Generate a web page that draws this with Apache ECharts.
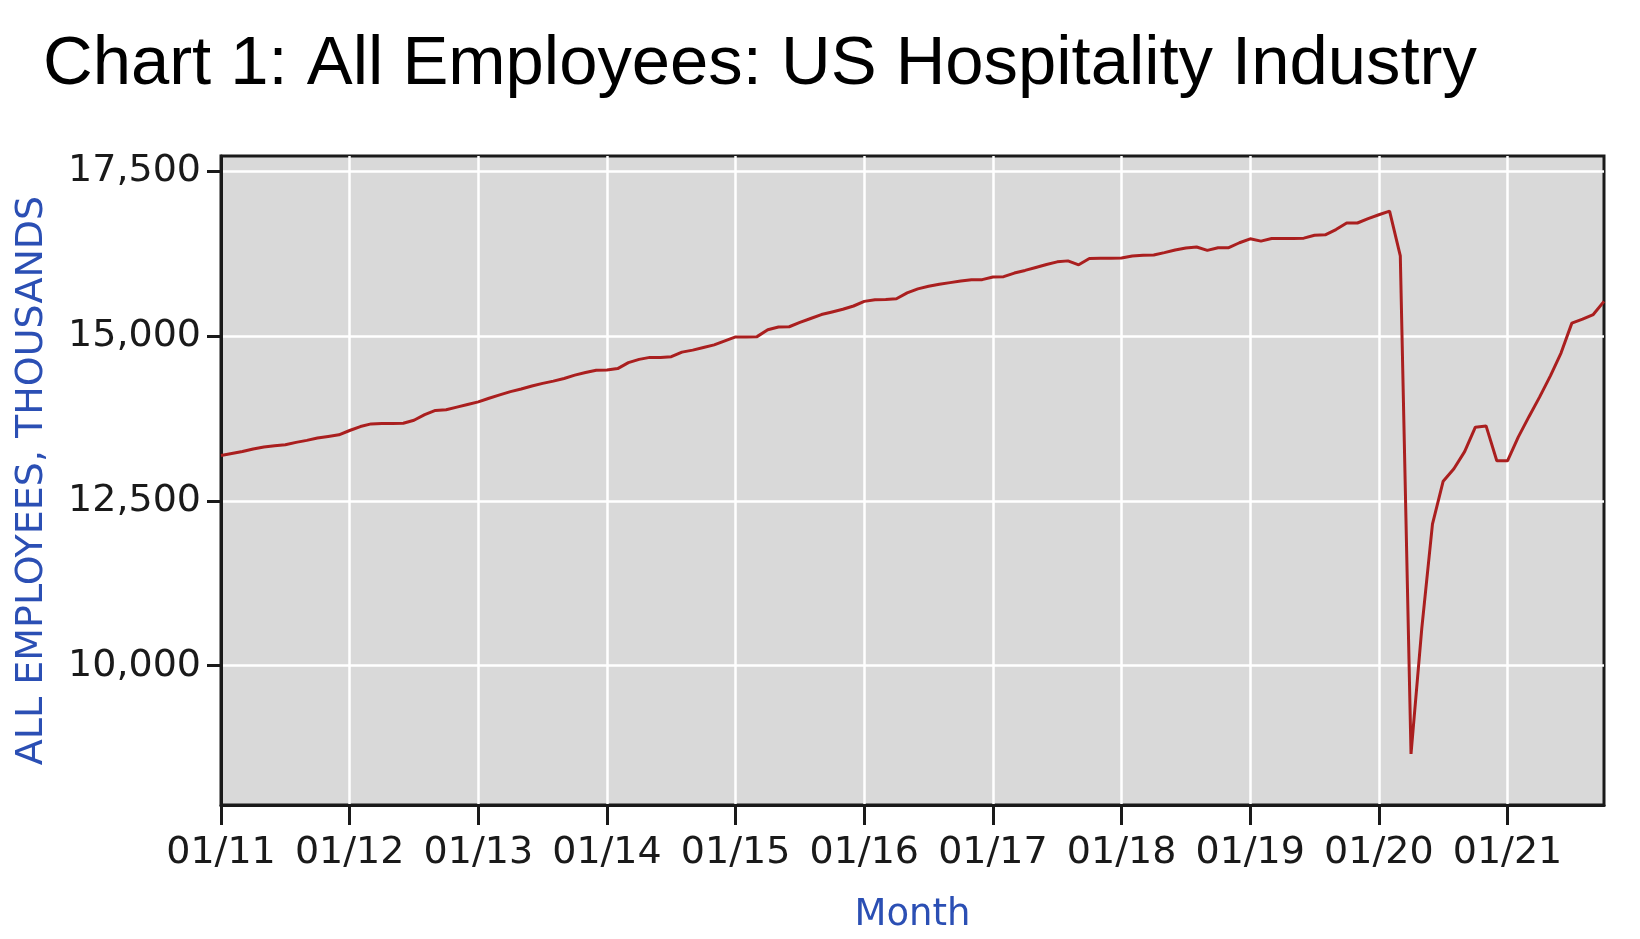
<!DOCTYPE html>
<html>
<head>
<meta charset="utf-8">
<title>All Employees: US Hospitality Industry</title>
<script src="https://cdn.jsdelivr.net/npm/echarts@6/dist/echarts.min.js"></script>
<style>
  html, body { margin: 0; padding: 0; background: #fff; }
  #chart { width: 1640px; height: 939px; }
</style>
</head>
<body>
<div id="chart"></div>
<script>
// monthly employment, thousands (Jan..Dec of each year)
const y2011 = [13190, 13220, 13250, 13290, 13320, 13340, 13355, 13390, 13420, 13455, 13480, 13505];
const y2012 = [13570, 13630, 13670, 13675, 13675, 13680, 13725, 13810, 13875, 13885, 13925, 13965];
const y2013 = [14005, 14060, 14110, 14160, 14200, 14245, 14285, 14320, 14360, 14410, 14450, 14485];
const y2014 = [14490, 14510, 14600, 14650, 14680, 14680, 14690, 14760, 14790, 14830, 14870, 14930];
const y2015 = [14990, 14990, 14995, 15100, 15140, 15145, 15210, 15270, 15330, 15370, 15410, 15460];
const y2016 = [15530, 15555, 15560, 15570, 15660, 15720, 15760, 15790, 15815, 15840, 15858, 15860];
const y2017 = [15900, 15905, 15960, 16000, 16045, 16090, 16130, 16145, 16085, 16180, 16185, 16185];
const y2018 = [16190, 16220, 16230, 16235, 16270, 16310, 16340, 16355, 16305, 16345, 16345, 16420];
const y2019 = [16480, 16445, 16485, 16485, 16485, 16490, 16535, 16540, 16620, 16720, 16720, 16785];
const y2020 = [16845, 16900, 16220, 8660, 10560, 12150, 12800, 12990, 13250, 13620, 13640, 13110];
const y2021 = [13110, 13470, 13780, 14080, 14400, 14750, 15200, 15260, 15330, 15530];

const years = ['11', '12', '13', '14', '15', '16', '17', '18', '19', '20', '21'];
const monthNums = ['01', '02', '03', '04', '05', '06', '07', '08', '09', '10', '11', '12'];
const yTicks = [10000, 12500, 15000, 17500];

const values = [].concat(y2011, y2012, y2013, y2014, y2015, y2016, y2017, y2018, y2019, y2020, y2021);
const months = [];
years.forEach(yy => monthNums.forEach(mm => months.push(mm + '/' + yy)));
months.length = values.length;

const blue = '#2b4fb4';
const axisFont = 'DejaVu Sans';

const chart = echarts.init(document.getElementById('chart'), null, { renderer: 'canvas' });
chart.setOption({
  animation: false,
  backgroundColor: '#ffffff',
  title: {
    text: 'Chart 1: All Employees: US Hospitality Industry',
    left: 38,
    top: 26,
    textStyle: { fontFamily: 'Liberation Sans', fontSize: 68.8, fontWeight: 'normal', color: '#000' }
  },
  grid: {
    left: 221, right: 36, top: 156, bottom: 117,
    show: true,
    backgroundColor: '#d9d9d9',
    borderColor: '#1a1a1a',
    borderWidth: 3
  },
  xAxis: {
    type: 'category',
    data: months,
    boundaryGap: false,
    name: 'Month',
    nameLocation: 'middle',
    nameGap: 92,
    nameTextStyle: { fontFamily: axisFont, fontSize: 37, color: blue },
    axisLine: { show: true, lineStyle: { color: '#1a1a1a', width: 3 } },
    axisTick: { show: true, interval: 11, length: 20, lineStyle: { color: '#1a1a1a', width: 3 } },
    axisLabel: {
      interval: 11, margin: 29,
      fontFamily: axisFont, fontSize: 38, color: '#1a1a1a'
    },
    splitLine: { show: true, interval: 11, lineStyle: { color: '#ffffff', width: 2.5 } }
  },
  yAxis: {
    type: 'value',
    min: 7885,
    max: 17737,
    name: 'ALL EMPLOYEES, THOUSANDS',
    nameLocation: 'middle',
    nameGap: 170,
    nameTextStyle: { fontFamily: axisFont, fontSize: 38, color: blue },
    axisLine: { show: true, lineStyle: { color: '#1a1a1a', width: 3 } },
    axisTick: { show: true, length: 14, customValues: yTicks, lineStyle: { color: '#1a1a1a', width: 3 } },
    axisLabel: {
      customValues: yTicks, margin: 20,
      fontFamily: axisFont, fontSize: 38, color: '#1a1a1a',
      formatter: v => v.toLocaleString('en-US')
    },
    splitLine: { show: true, lineStyle: { color: '#ffffff', width: 2.5 } }
  },
  series: [{
    type: 'line',
    data: values,
    showSymbol: false,
    lineStyle: { color: '#aa1f1f', width: 3 },
    itemStyle: { color: '#aa1f1f' }
  }]
});
</script>
</body>
</html>
